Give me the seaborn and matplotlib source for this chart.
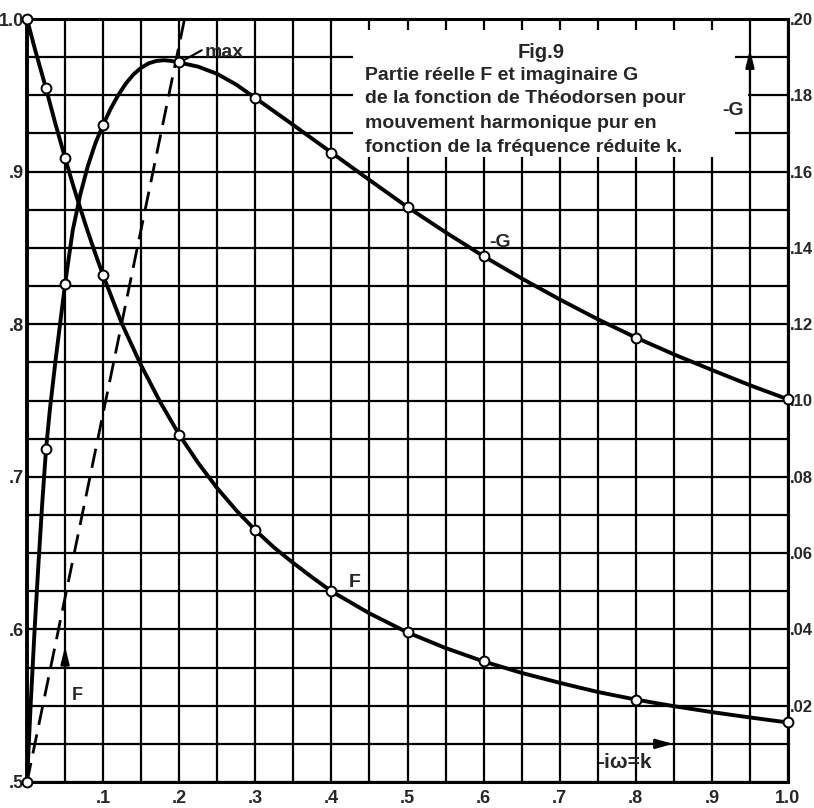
import numpy as np
import matplotlib
matplotlib.use("Agg")
import matplotlib.pyplot as plt
import seaborn as sns
from matplotlib.patches import Rectangle

# ---------------- data ----------------
k_marks = [0.0, 0.025, 0.05, 0.1, 0.2, 0.3, 0.4, 0.5, 0.6, 0.8, 1.0]
F_marks = [1.0, 0.9545, 0.909, 0.832, 0.7276, 0.665, 0.625, 0.598, 0.579, 0.554, 0.539]
G_marks = [0.0, 0.0872, 0.1305, 0.1723, 0.1886, 0.1793, 0.165, 0.1507, 0.1378, 0.1165, 0.1003]

k_F_curve = [0.0, 0.01, 0.025, 0.0375, 0.05, 0.06, 0.07, 0.08, 0.09, 0.1, 0.125, 0.15,
             0.175, 0.2, 0.225, 0.25, 0.275, 0.3, 0.325, 0.35, 0.375, 0.4, 0.45, 0.5,
             0.55, 0.6, 0.65, 0.7, 0.75, 0.8, 0.85, 0.9, 0.95, 1.0]
F_curve = [1.0, 0.981, 0.9545, 0.931, 0.909, 0.892, 0.876, 0.8605, 0.846, 0.832, 0.800, 0.773,
           0.749, 0.7276, 0.709, 0.6925, 0.678, 0.665, 0.6535, 0.6435, 0.634, 0.625, 0.6105, 0.598,
           0.5878, 0.579, 0.5715, 0.565, 0.559, 0.554, 0.5497, 0.5458, 0.5423, 0.539]

k_G_curve = [0.0, 0.005, 0.01, 0.015, 0.02, 0.025, 0.03, 0.0375, 0.045, 0.05, 0.06, 0.07,
             0.08, 0.09, 0.1, 0.11, 0.12, 0.13, 0.14, 0.15, 0.16, 0.17, 0.18, 0.19, 0.2,
             0.225, 0.25, 0.275, 0.3, 0.35, 0.4, 0.45, 0.5, 0.55, 0.6, 0.65, 0.7, 0.75,
             0.8, 0.85, 0.9, 0.95, 1.0]
G_curve = [0.0, 0.021, 0.040, 0.057, 0.073, 0.0872, 0.0975, 0.1105, 0.1225, 0.1305, 0.1445, 0.1540,
           0.1615, 0.1675, 0.1723, 0.1765, 0.1801, 0.1831, 0.1855, 0.1872, 0.1884, 0.1890, 0.1892, 0.1890, 0.1886,
           0.1875, 0.1856, 0.1828, 0.1793, 0.1722, 0.1650, 0.1578, 0.1507, 0.1441, 0.1378, 0.1320, 0.1265, 0.1213,
           0.1165, 0.1121, 0.1080, 0.1040, 0.1003]

dash_k = [0.0, 0.207]
dash_G = [0.0, 0.2]

x_ticks = [0.1, 0.2, 0.3, 0.4, 0.5, 0.6, 0.7, 0.8, 0.9, 1.0]
x_labels = [".1", ".2", ".3", ".4", ".5", ".6", ".7", ".8", ".9", "1.0"]
F_ticks = [0.5, 0.6, 0.7, 0.8, 0.9, 1.0]
F_labels = [".5", ".6", ".7", ".8", ".9", "1.0"]
G_ticks = [0.02, 0.04, 0.06, 0.08, 0.10, 0.12, 0.14, 0.16, 0.18, 0.20]
G_labels = [".02", ".04", ".06", ".08", ".10", ".12", ".14", ".16", ".18", ".20"]

title_lines = ["Partie réelle F et imaginaire G",
               "de la fonction de Théodorsen pour",
               "mouvement harmonique pur en",
               "fonction de la fréquence réduite k."]

# ---------------- style ----------------
sns.set_theme(style="white")
plt.rcParams["font.family"] = ["Liberation Sans", "DejaVu Sans"]
plt.rcParams["font.weight"] = "bold"

fig = plt.figure(figsize=(8.14, 8.08), dpi=100)
ax = fig.add_axes([27 / 814, 26 / 808, 761 / 814, 763 / 808])
ax.set_xlim(0, 1.0)
ax.set_ylim(0.5, 1.0)
ax.set_axisbelow(True)

ax.set_xticks(x_ticks)
ax.set_xticklabels(x_labels)
ax.set_xticks(np.arange(0, 1.0001, 0.05), minor=True)
ax.set_yticks(F_ticks)
ax.set_yticklabels(F_labels)
ax.set_yticks(np.arange(0.5, 1.0001, 0.025), minor=True)
ax.grid(which="both", color="black", lw=1.6)
ax.tick_params(which="both", length=0)
ax.tick_params(axis="x", pad=6, labelsize=13)
ax.tick_params(axis="y", pad=2, labelsize=13)
for lab in ax.get_xticklabels() + ax.get_yticklabels():
    lab.set_fontweight("bold")
for name, sp in ax.spines.items():
    sp.set_color("black")
    sp.set_linewidth(2.2)
ax.spines["left"].set_linewidth(2.8)

# white area for the caption
ax.add_patch(Rectangle((0.428, 0.9096), 0.930 - 0.428, 0.9928 - 0.9096,
                       facecolor="white", edgecolor="none", zorder=1))
ax.add_patch(Rectangle((0.928, 0.928), 0.947 - 0.928, 0.962 - 0.928,
                       facecolor="white", edgecolor="none", zorder=1))

# F curve
sns.lineplot(x=k_F_curve, y=F_curve, ax=ax, color="black", lw=2.8,
             sort=False, estimator=None, zorder=3)
sns.scatterplot(x=k_marks, y=F_marks, ax=ax, marker="o", s=50, facecolor="white",
                edgecolor="black", linewidth=1.4, zorder=5, clip_on=False)

# -G on twin axis
ax2 = ax.twinx()
ax2.set_ylim(0, 0.2)
ax2.set_xlim(0, 1.0)
ax2.set_yticks(G_ticks)
ax2.set_yticklabels(G_labels)
ax2.tick_params(length=0, pad=1)
for lab in ax2.get_yticklabels():
    lab.set_fontweight("bold")
    lab.set_fontsize(12)
    lab.set_family(["Liberation Sans Narrow", "Liberation Sans", "DejaVu Sans"])
ax2.grid(False)
for sp in ax2.spines.values():
    sp.set_visible(False)

sns.lineplot(x=dash_k, y=dash_G, ax=ax2, color="black", lw=2.0,
             linestyle=(0, (7, 3.5)), sort=False, estimator=None, zorder=2)
sns.lineplot(x=k_G_curve, y=G_curve, ax=ax2, color="black", lw=2.8,
             sort=False, estimator=None, zorder=3)
sns.scatterplot(x=k_marks, y=G_marks, ax=ax2, marker="o", s=50, facecolor="white",
                edgecolor="black", linewidth=1.4, zorder=5, clip_on=False)

# ---------------- annotations ----------------
ax.text(0.676, 0.9744, "Fig.9", ha="center", va="baseline", fontsize=14.5,
        fontweight="bold", zorder=6)
for txt, yb in zip(title_lines, [0.960, 0.945, 0.9286, 0.9128]):
    ax.text(0.444, yb, txt, ha="left", va="baseline", fontsize=14,
            fontweight="bold", zorder=6)

ax.text(0.431, 0.631, "F", ha="center", va="center", fontsize=14, fontweight="bold")
ax.text(0.0657, 0.557, "F", ha="center", va="center", fontsize=13, fontweight="bold")
ax.annotate("", xy=(0.05, 0.589), xytext=(0.05, 0.574),
            arrowprops=dict(arrowstyle="-|>,head_length=0.9,head_width=0.22",
                            color="black", lw=1.5, shrinkA=0, shrinkB=0))

ax2.text(0.6216, 0.1415, "-G", ha="center", va="center", fontsize=14, fontweight="bold")
ax2.text(0.928, 0.1759, "-G", ha="center", va="center", fontsize=14, fontweight="bold")
ax2.annotate("", xy=(0.95, 0.192), xytext=(0.95, 0.180),
             arrowprops=dict(arrowstyle="-|>,head_length=0.9,head_width=0.22",
                             color="black", lw=1.5, shrinkA=0, shrinkB=0))

ax2.text(0.749, 0.005, "-iω=k", ha="left", va="center", fontsize=15, fontweight="bold")
ax2.annotate("", xy=(0.849, 0.01), xytext=(0.80, 0.01),
             arrowprops=dict(arrowstyle="-|>,head_length=0.9,head_width=0.25",
                             color="black", lw=1.5, shrinkA=0, shrinkB=0))

ax2.annotate("max", xy=(0.207, 0.1893), xytext=(0.234, 0.190),
             ha="left", va="baseline", fontsize=14, fontweight="bold",
             arrowprops=dict(arrowstyle="-", color="black", lw=1.5,
                             shrinkA=0, shrinkB=0, relpos=(0.0, 0.75)))

fig.savefig("out.png", dpi=100)
